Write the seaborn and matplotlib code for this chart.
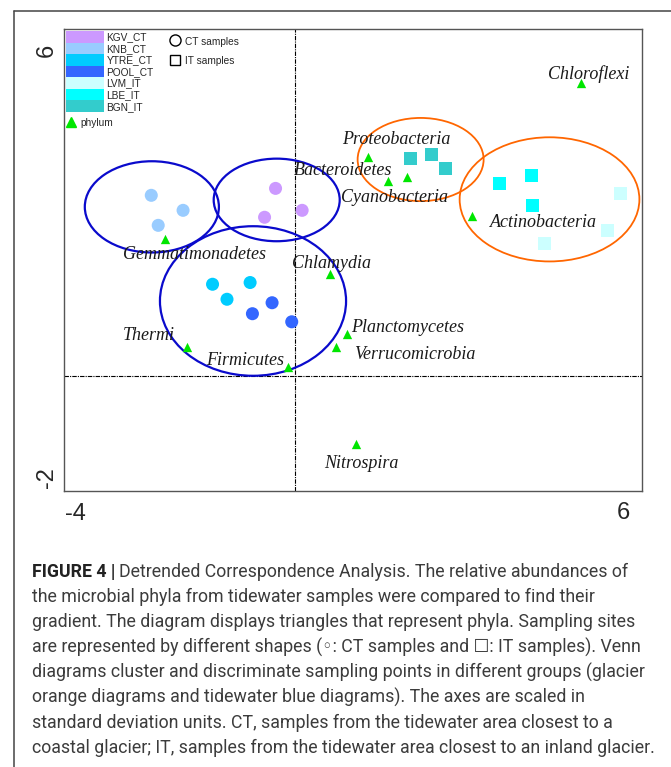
import matplotlib
matplotlib.use('Agg')
import matplotlib.pyplot as plt
import seaborn as sns
import pandas as pd
import numpy as np
from matplotlib.patches import Ellipse, Patch
from matplotlib.lines import Line2D

# sampling sites and their colours
sites = ['KGV_CT', 'KNB_CT', 'YTRE_CT', 'POOL_CT', 'LVM_IT', 'LBE_IT', 'BGN_IT']
site_colors = ['#cc99ff', '#99ccff', '#00ccff', '#3366ff', '#ccffff', '#00ffff', '#33cccc']

# sample scores (DCA axis 1, axis 2)
sample_site = (['KGV_CT'] * 3 + ['KNB_CT'] * 3 + ['YTRE_CT'] * 3 + ['POOL_CT'] * 3
               + ['LVM_IT'] * 3 + ['LBE_IT'] * 3 + ['BGN_IT'] * 3)
sample_x = [-0.34, -0.53, 0.12, -2.49, -1.94, -2.37, -1.43, -0.78, -1.18,
            -0.40, -0.74, -0.06, 5.63, 5.40, 4.31, 3.54, 4.09, 4.11, 2.00, 2.35, 2.60]
sample_y = [3.24, 2.74, 2.86, 3.12, 2.86, 2.60, 1.58, 1.61, 1.32,
            1.26, 1.07, 0.93, 3.15, 2.51, 2.28, 3.33, 3.47, 2.95, 3.76, 3.83, 3.58]

# phylum scores
phyla = ['Chloroflexi', 'Proteobacteria', 'Bacteroidetes', 'Cyanobacteria', 'Actinobacteria',
         'Gemmatimonadetes', 'Chlamydia', 'Thermi', 'Firmicutes', 'Planctomycetes',
         'Verrucomicrobia', 'Nitrospira']
phylum_x = [4.95, 1.26, 1.61, 1.94, 3.06, -2.26, 0.60, -1.88, -0.12, 0.89, 0.70, 1.05]
phylum_y = [5.06, 3.79, 3.36, 3.44, 2.76, 2.36, 1.75, 0.50, 0.14, 0.71, 0.50, -1.18]
# where the phylum names sit (baseline centre)
label_x = [5.07, 1.75, 0.83, 1.71, 4.30, -1.74, 0.63, -2.54, -0.87, 1.94, 2.07, 1.14]
label_y = [5.14, 4.00, 3.48, 3.00, 2.58, 2.02, 1.86, 0.62, 0.18, 0.76, 0.29, -1.61]

# Venn style ellipses (centre, width, height)
ell_x = [-2.48, -0.32, -0.73, 2.17, 4.40]
ell_y = [2.92, 3.04, 1.29, 3.74, 3.05]
ell_w = [2.32, 2.18, 3.22, 2.18, 3.11]
ell_h = [1.58, 1.43, 2.59, 1.44, 2.15]
ell_group = ['tidewater', 'tidewater', 'tidewater', 'glacier', 'glacier']

caption_lines = [
    'Detrended Correspondence Analysis. The relative abundances of',
    'the microbial phyla from tidewater samples were compared to find their',
    'gradient. The diagram displays triangles that represent phyla. Sampling sites',
    'are represented by different shapes (\u25e6: CT samples and \u2610: IT samples). Venn',
    'diagrams cluster and discriminate sampling points in different groups (glacier',
    'orange diagrams and tidewater blue diagrams). The axes are scaled in',
    'standard deviation units. CT, samples from the tidewater area closest to a',
    'coastal glacier; IT, samples from the tidewater area closest to an inland glacier.',
]

df = pd.DataFrame({'x': sample_x, 'y': sample_y, 'site': sample_site})
df['kind'] = df['site'].str[-2:]

sns.set_style('white')
plt.rcParams['font.family'] = ['Liberation Sans', 'DejaVu Sans']

W, H = 671, 767
fig = plt.figure(figsize=(W / 100, H / 100), dpi=100)
ax = fig.add_axes([64 / W, (H - 491) / H, 578 / W, 462 / H])

# ellipses first so the points sit on top
ell_colors = {'tidewater': '#0a0acc', 'glacier': '#ff6600'}
for cx, cy, w, h, g in zip(ell_x, ell_y, ell_w, ell_h, ell_group):
    ax.add_patch(Ellipse((cx, cy), w, h, fill=False, edgecolor=ell_colors[g],
                         lw=1.6 if g == 'tidewater' else 1.3, zorder=2))

ax.axhline(0, color='black', lw=0.8, ls=(0, (4, 1, 1, 1)), zorder=1)
ax.axvline(0, color='black', lw=0.8, ls=(0, (4, 1, 1, 1)), zorder=1)

sns.scatterplot(data=df, x='x', y='y', hue='site', style='kind',
                palette=dict(zip(sites, site_colors)), markers={'CT': 'o', 'IT': 's'},
                s=88, linewidth=0, legend=False, ax=ax, zorder=3)
sns.scatterplot(x=phylum_x, y=phylum_y, marker='^', color='#00e600', s=45,
                linewidth=0, ax=ax, zorder=4)

for name, lx, ly in zip(phyla, label_x, label_y):
    ax.text(lx, ly, name, family='Liberation Serif', style='italic', fontsize=13,
            ha='center', va='baseline', color='#1a1a1a', zorder=5)

ax.set_xlim(-4, 6)
ax.set_ylim(-2, 6)
ax.set_xticks(np.arange(-4, 7, 2))
ax.set_yticks(np.arange(-2, 7, 1))
ax.set_xticklabels([])
ax.set_yticklabels([])
ax.set_xlabel('')
ax.set_ylabel('')
ax.tick_params(direction='inout', length=5, width=0.9, color='#333333')
for sp in ax.spines.values():
    sp.set_color('#555555')
    sp.set_linewidth(1.0)

# end labels of the axes, CANOCO style
ax.text(-4.29, 5.63, '6', fontsize=17, rotation=90, ha='center', va='center', clip_on=False)
ax.text(-4.29, -1.77, '-2', fontsize=17, rotation=90, ha='center', va='center', clip_on=False)
ax.text(-3.80, -2.40, '-4', fontsize=17, ha='center', va='center', clip_on=False)
ax.text(5.68, -2.38, '6', fontsize=17, ha='center', va='center', clip_on=False)

# legend: site colours
site_handles = [Patch(facecolor=c, edgecolor='none', label=s) for s, c in zip(sites, site_colors)]
leg1 = ax.legend(handles=site_handles, loc='upper left', bbox_to_anchor=(2 / 578, 1 - 2 / 462),
                 frameon=False, fontsize=7.3, handlelength=3.7, handleheight=1.38,
                 labelspacing=0, handletextpad=0.3, borderpad=0, borderaxespad=0)
ax.add_artist(leg1)
leg2 = ax.legend(handles=[Line2D([], [], marker='^', color='#00e600', ls='none', markersize=6.5,
                                 label='phylum')],
                 loc='upper left', bbox_to_anchor=(2 / 578, 1 - 89 / 462), frameon=False,
                 fontsize=7.3, handlelength=1.0, handletextpad=0.4, borderpad=0, borderaxespad=0)
ax.add_artist(leg2)
type_handles = [Line2D([], [], marker='o', ls='none', markersize=8, markerfacecolor='none',
                       markeredgecolor='black', markeredgewidth=1.0, label='CT samples'),
                Line2D([], [], marker='s', ls='none', markersize=7.5, markerfacecolor='none',
                       markeredgecolor='black', markeredgewidth=1.0, label='IT samples')]
ax.legend(handles=type_handles, loc='upper left', bbox_to_anchor=(105 / 578, 1 - 7 / 462),
          frameon=False, fontsize=7.3, handlelength=1.2, handleheight=1.2, labelspacing=0.85,
          handletextpad=0.35, borderpad=0, borderaxespad=0)

# page frame
fig.add_artist(Line2D([14 / W, 1], [1 - 11 / H, 1 - 11 / H], color='#444444', lw=1.1))
fig.add_artist(Line2D([14 / W, 14 / W], [0, 1 - 11 / H], color='#444444', lw=1.1))

# caption
cap_family = ['Roboto', 'DejaVu Sans']
fig.canvas.draw()
r = fig.canvas.get_renderer()
probe = fig.text(0, 0, caption_lines[-1], fontsize=10, family=cap_family)
pw = probe.get_window_extent(r).width
probe.remove()
cap_size = 10 * 622 / pw

baselines = [576.7, 601.9, 627.2, 652.4, 677.6, 702.8, 728.1, 753.3]
x0 = 32 / W
for i, (line, yb) in enumerate(zip(caption_lines, baselines)):
    yy = 1 - yb / H
    if i == 0:
        t0 = fig.text(x0, yy, 'FIGURE 4 |', fontsize=cap_size, family=cap_family,
                      weight='bold', color='#222222', va='baseline')
        bb = t0.get_window_extent(r)
        fig.text((bb.x1 + 4) / W, yy, line, fontsize=cap_size, family=cap_family,
                 color='#3c3c3c', va='baseline')
    else:
        fig.text(x0, yy, line, fontsize=cap_size, family=cap_family,
                 color='#3c3c3c', va='baseline')

fig.savefig('out.png', dpi=100)
